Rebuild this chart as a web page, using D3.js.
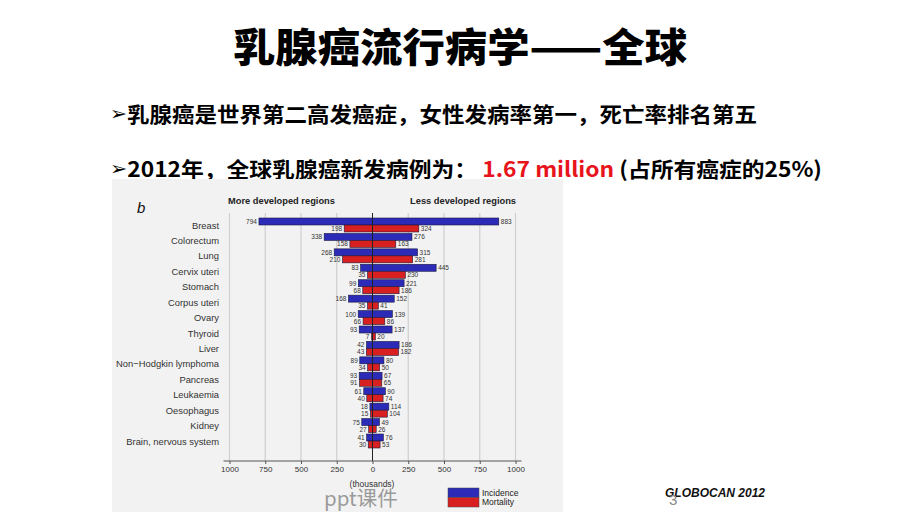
<!DOCTYPE html>
<html>
<head>
<meta charset="utf-8">
<script src="https://cdn.jsdelivr.net/npm/d3@7"></script>
<style>
  html, body { margin: 0; padding: 0; background: #fff; }
  svg { display: block; }
</style>
</head>
<body>
<svg id="chart" width="920" height="517"></svg>
<script>
// ---- data ----
const categories = ["Breast", "Colorectum", "Lung", "Cervix uteri", "Stomach", "Corpus uteri",
  "Ovary", "Thyroid", "Liver", "Non\u2212Hodgkin lymphoma", "Pancreas", "Leukaemia",
  "Oesophagus", "Kidney", "Brain, nervous system"];
const moreIncidence = [794, 338, 268, 83, 99, 168, 100, 93, 42, 89, 93, 61, 18, 75, 41];
const moreMortality = [198, 158, 210, 35, 68, 35, 66, 7, 43, 34, 91, 40, 15, 27, 30];
const lessIncidence = [883, 276, 315, 445, 221, 152, 139, 137, 186, 80, 67, 90, 114, 49, 76];
const lessMortality = [324, 163, 281, 230, 186, 41, 86, 20, 182, 50, 65, 74, 104, 26, 53];
const tickValues = [-1000, -750, -500, -250, 0, 250, 500, 750, 1000];
const seriesNames = ["Incidence", "Mortality"];

const BLUE = "#2b2bb8", RED = "#d92020";

const svg = d3.select("#chart");

// Title and bullets
svg.append("text").attr("x", 460).attr("y", 45)
  .attr("text-anchor", "middle").attr("dominant-baseline", "central")
  .attr("font-family", "'Noto Sans CJK SC'").attr("font-weight", 900)
  .attr("font-size", 40).attr("textLength", 454).attr("lengthAdjust", "spacingAndGlyphs")
  .attr("fill", "#000").text("乳腺癌流行病学——全球");

const b1 = svg.append("text").attr("x", 110).attr("y", 113)
  .attr("dominant-baseline", "central")
  .attr("font-family", "'Noto Sans CJK SC'").attr("font-weight", 700)
  .attr("font-size", 21).attr("textLength", 647).attr("lengthAdjust", "spacingAndGlyphs")
  .attr("fill", "#000");
b1.append("tspan").attr("font-family", "'DejaVu Sans'").attr("font-size", 19).text("\u27A2");
b1.append("tspan").text("乳腺癌是世界第二高发癌症，女性发病率第一，死亡率排名第五");

const b2 = svg.append("text").attr("x", 110).attr("y", 168)
  .attr("dominant-baseline", "central")
  .attr("font-family", "'Noto Sans CJK SC'").attr("font-weight", 700)
  .attr("font-size", 21).attr("textLength", 712).attr("lengthAdjust", "spacingAndGlyphs")
  .attr("fill", "#000");
b2.append("tspan").attr("font-family", "'DejaVu Sans'").attr("font-size", 19).text("\u27A2");
b2.append("tspan").text("2012年，全球乳腺癌新发病例为：  ");
b2.append("tspan").attr("fill", "#e8141b").text("1.67 million");
b2.append("tspan").text(" (占所有癌症的25%)");

// Chart panel
svg.append("rect").attr("x", 112).attr("y", 179).attr("width", 451).attr("height", 333)
  .attr("fill", "#f2f2f2");

const x = d3.scaleLinear().domain([-1000, 1000]).range([229.5, 515.5]);
const y = d3.scalePoint().domain(categories).range([225, 441]);
const bh = 7;
const gridTop = 213, axisY = 461;

// gridlines
svg.append("g").selectAll("line").data(tickValues.filter(d => d !== 0)).join("line")
  .attr("x1", d => x(d)).attr("x2", d => x(d))
  .attr("y1", gridTop).attr("y2", axisY)
  .attr("stroke", "#cfcfcf").attr("stroke-width", 1.2);

// bars
const rows = categories.map((c, i) => ({
  c, mi: moreIncidence[i], mm: moreMortality[i], li: lessIncidence[i], lm: lessMortality[i]
}));
const g = svg.append("g");
function bars(key, side, color, dy) {
  g.append("g").selectAll("rect").data(rows).join("rect")
    .attr("x", d => side < 0 ? x(-d[key]) : x(0))
    .attr("width", d => Math.abs(x(d[key]) - x(0)))
    .attr("y", d => y(d.c) + dy)
    .attr("height", bh)
    .attr("fill", color).attr("stroke", "#1a1a40").attr("stroke-width", 0.6);
  g.append("g").selectAll("text").data(rows).join("text")
    .attr("x", d => side < 0 ? x(-d[key]) - 2 : x(d[key]) + 2)
    .attr("y", d => y(d.c) + dy + bh / 2)
    .attr("dominant-baseline", "central")
    .attr("text-anchor", side < 0 ? "end" : "start")
    .attr("font-family", "'Liberation Sans', Arial, sans-serif").attr("font-size", 6.5)
    .attr("fill", "#333").text(d => d[key]);
}
bars("mi", -1, BLUE, -bh);
bars("mm", -1, RED, 0);
bars("li", 1, BLUE, -bh);
bars("lm", 1, RED, 0);

// centre line
svg.append("line").attr("x1", x(0)).attr("x2", x(0)).attr("y1", gridTop).attr("y2", axisY)
  .attr("stroke", "#222").attr("stroke-width", 1);

// x axis
const axis = d3.axisBottom(x).tickValues(tickValues).tickFormat(d => Math.abs(d)).tickSize(3).tickSizeOuter(0);
const ag = svg.append("g").attr("transform", `translate(0,${axisY})`).call(axis);
ag.select(".domain").attr("d", `M${x(-1000) - 6},0H${x(1000) + 6}`).attr("stroke", "#555");
ag.selectAll(".tick line").attr("stroke", "#555");
ag.selectAll(".tick text").attr("font-family", "'Liberation Sans', Arial, sans-serif")
  .attr("font-size", 8).attr("fill", "#333").attr("dy", "0.6em");

// category labels
svg.append("g").selectAll("text").data(categories).join("text")
  .attr("x", 219).attr("y", d => y(d))
  .attr("text-anchor", "end").attr("dominant-baseline", "central")
  .attr("font-family", "'Liberation Sans', Arial, sans-serif").attr("font-size", 9.4)
  .attr("fill", "#333").text(d => d);

// headers
svg.append("text").attr("x", 228).attr("y", 201).attr("dominant-baseline", "central")
  .attr("font-family", "'Liberation Sans', Arial, sans-serif").attr("font-weight", 700)
  .attr("font-size", 9.3).attr("fill", "#222").text("More developed regions");
svg.append("text").attr("x", 516).attr("y", 201).attr("dominant-baseline", "central")
  .attr("text-anchor", "end")
  .attr("font-family", "'Liberation Sans', Arial, sans-serif").attr("font-weight", 700)
  .attr("font-size", 9.3).attr("fill", "#222").text("Less developed regions");
svg.append("text").attr("x", 137).attr("y", 207).attr("dominant-baseline", "central")
  .attr("font-family", "'Liberation Sans', Arial, sans-serif").attr("font-style", "italic")
  .attr("font-size", 15).attr("fill", "#111").text("b");

svg.append("text").attr("x", 372).attr("y", 484).attr("text-anchor", "middle")
  .attr("dominant-baseline", "central")
  .attr("font-family", "'Liberation Sans', Arial, sans-serif").attr("font-size", 8.5)
  .attr("fill", "#333").text("(thousands)");

// legend
const legColors = [BLUE, RED];
const lg = svg.append("g");
lg.selectAll("rect").data(seriesNames).join("rect")
  .attr("x", 448).attr("y", (d, i) => 488 + i * 9.5).attr("width", 31).attr("height", 9.5)
  .attr("fill", (d, i) => legColors[i]).attr("stroke", "#444").attr("stroke-width", 0.5);
lg.selectAll("text").data(seriesNames).join("text")
  .attr("x", 482).attr("y", (d, i) => 493 + i * 8.5).attr("dominant-baseline", "central")
  .attr("font-family", "'Liberation Sans', Arial, sans-serif").attr("font-size", 8.5)
  .attr("fill", "#222").text(d => d);

// watermark & footer
svg.append("text").attr("x", 324).attr("y", 497).attr("dominant-baseline", "central")
  .attr("font-family", "'Noto Sans CJK SC'").attr("font-size", 20.5)
  .attr("fill", "#9a9a9a").text("ppt课件");
svg.append("text").attr("x", 665).attr("y", 493).attr("dominant-baseline", "central")
  .attr("font-family", "'Liberation Sans', Arial, sans-serif").attr("font-weight", 700)
  .attr("font-style", "italic").attr("font-size", 12).attr("fill", "#111").text("GLOBOCAN 2012");
svg.append("text").attr("x", 669).attr("y", 499).attr("dominant-baseline", "central")
  .attr("font-family", "'Liberation Sans', Arial, sans-serif")
  .attr("font-size", 15).attr("fill", "#888").text("3");
</script>
</body>
</html>
